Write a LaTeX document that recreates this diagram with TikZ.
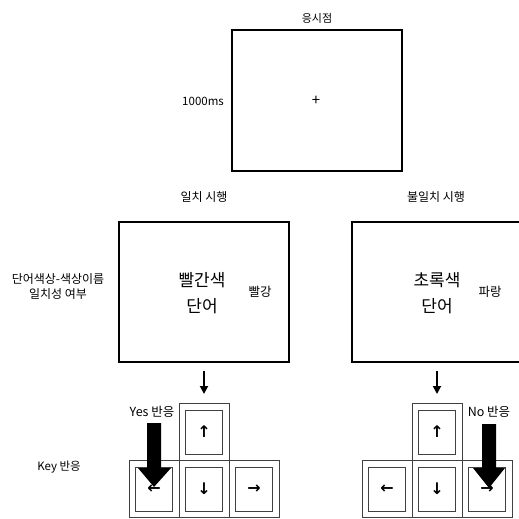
\documentclass[tikz,border=0pt]{standalone}
\usepackage{fontspec}
\setmainfont{Noto Sans CJK KR}
\newfontfamily\arrowfont{DejaVu Sans}
\usetikzlibrary{arrows.meta}
\begin{document}
\begin{tikzpicture}[x=1pt,y=-1pt,
  screen/.style={draw,line width=2pt,minimum width=170pt,minimum height=140pt,inner sep=0pt},
  lbl/.style={font=\fontsize{11.5}{14}\selectfont,inner sep=0pt},
  head/.style={font=\fontsize{12}{14}\selectfont,inner sep=0pt},
  resp/.style={font=\fontsize{12.5}{14}\selectfont,inner sep=0pt},
  side/.style={font=\fontsize{12}{15}\selectfont,inner sep=0pt,align=center},
  word/.style={font=\fontsize{17}{26}\selectfont,inner sep=0pt,align=center},
  ink/.style={font=\fontsize{12.5}{14}\selectfont,inner sep=0pt},
  keyo/.style={draw=black!75,line width=0.7pt,minimum width=50pt,minimum height=57pt,inner sep=0pt},
  keyi/.style={draw=black!75,line width=0.7pt,minimum width=37pt,minimum height=44pt,inner sep=0pt,font=\arrowfont\bfseries\fontsize{16}{16}\selectfont},
  small/.style={line width=1.8pt,-{Triangle[width=8pt,length=8pt]}},
  big/.style={fill=black,draw=none}]
\useasboundingbox (0,0) rectangle (519,519);
\clip (0,0) rectangle (519,519);

% fixation screen
\node[screen,minimum height=141pt] (fix) at (317,100.5) {};
\node[lbl,font=\fontsize{11}{14}\selectfont] (fixt) at (317,18) {응시점};
\node[lbl,anchor=east] (ms) at (224,101) {1000ms};
\node[inner sep=0pt,font=\fontsize{15}{15}\selectfont] (plus) at (316,101) {+};

% trial screens
\node[head] (ct) at (204,197) {일치 시행};
\node[head] (it) at (436,197) {불일치 시행};
\node[screen] (cbox) at (204,292) {};
\node[screen] (ibox) at (437,292) {};
\node[side] (sidel) at (58,287) {단어색상-색상이름\\일치성 여부};
\node[word] (cw) at (202,293) {빨간색\\단어};
\node[ink] (ci) at (260,292) {빨강};
\node[word] (iw) at (437,293) {초록색\\단어};
\node[ink] (ii) at (490,292) {파랑};

% small arrows
\coordinate (ca1) at (204,371);
\coordinate (ca2) at (204,394);
\coordinate (ia1) at (437,371);
\coordinate (ia2) at (437,394);
\draw[small] (ca1) -- (ca2);
\draw[small] (ia1) -- (ia2);

% keys left group
\node[keyo] (cup) at (204,432) {};
\node[keyo] (cleft) at (154,489) {};
\node[keyo] (cdown) at (204,489) {};
\node[keyo] (cright) at (254,489) {};
\node[keyi] (cupi) at (cup) {↑};
\node[keyi] (clefti) at (cleft) {←};
\node[keyi] (cdowni) at (cdown) {↓};
\node[keyi] (crighti) at (cright) {→};

% keys right group
\node[keyo] (iup) at (437,432) {};
\node[keyo] (ileft) at (387,489) {};
\node[keyo] (idown) at (437,489) {};
\node[keyo] (iright) at (487,489) {};
\node[keyi] (iupi) at (iup) {↑};
\node[keyi] (ilefti) at (ileft) {←};
\node[keyi] (idowni) at (idown) {↓};
\node[keyi] (irighti) at (iright) {→};

% response labels
\node[resp] (yes) at (152,412) {Yes 반응};
\node[resp] (no) at (489,412) {No 반응};
\node[lbl] (keyl) at (59,467) {Key 반응};

% big arrows
\fill[big] (147,423) -- (161,423) -- (161,468) -- (171,468) -- (154,487) -- (138,468) -- (147,468) -- cycle;
\fill[big] (482,424) -- (496,424) -- (496,468) -- (505,468) -- (489,488) -- (473,468) -- (482,468) -- cycle;
\end{tikzpicture}
\end{document}
